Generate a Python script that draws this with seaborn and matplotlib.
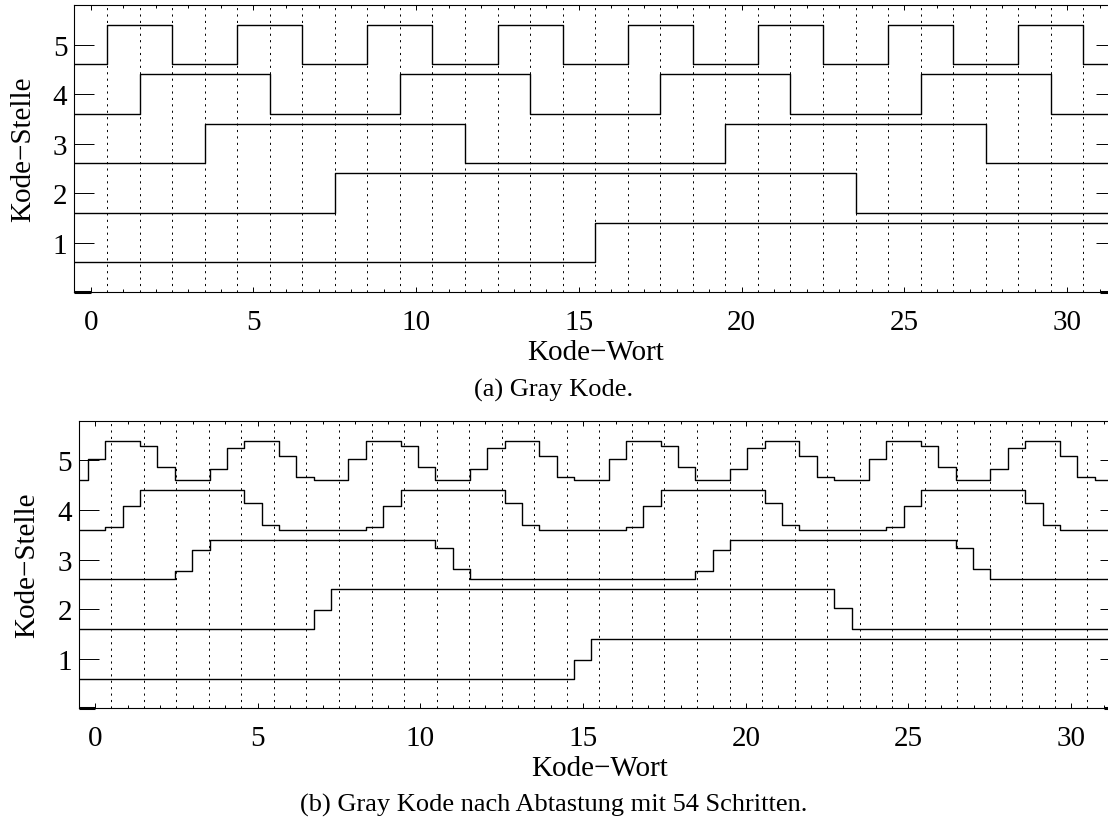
import numpy as np
import pandas as pd
import matplotlib
matplotlib.use("Agg")
import matplotlib.pyplot as plt
from matplotlib.ticker import MultipleLocator, FixedLocator
import seaborn as sns

# ---------------- data ----------------
kode_wort = [0, 1, 2, 3, 4, 5, 6, 7, 8, 9, 10, 11, 12, 13, 14, 15,
             16, 17, 18, 19, 20, 21, 22, 23, 24, 25, 26, 27, 28, 29, 30, 31]

# (a) Gray code bits per code position (Kode-Stelle 1..5)
gray_stelle1 = [0, 0, 0, 0, 0, 0, 0, 0, 0, 0, 0, 0, 0, 0, 0, 0,
                1, 1, 1, 1, 1, 1, 1, 1, 1, 1, 1, 1, 1, 1, 1, 1]
gray_stelle2 = [0, 0, 0, 0, 0, 0, 0, 0, 1, 1, 1, 1, 1, 1, 1, 1,
                1, 1, 1, 1, 1, 1, 1, 1, 0, 0, 0, 0, 0, 0, 0, 0]
gray_stelle3 = [0, 0, 0, 0, 1, 1, 1, 1, 1, 1, 1, 1, 0, 0, 0, 0,
                0, 0, 0, 0, 1, 1, 1, 1, 1, 1, 1, 1, 0, 0, 0, 0]
gray_stelle4 = [0, 0, 1, 1, 1, 1, 0, 0, 0, 0, 1, 1, 1, 1, 0, 0,
                0, 0, 1, 1, 1, 1, 0, 0, 0, 0, 1, 1, 1, 1, 0, 0]
gray_stelle5 = [0, 1, 1, 0, 0, 1, 1, 0, 0, 1, 1, 0, 0, 1, 1, 0,
                0, 1, 1, 0, 0, 1, 1, 0, 0, 1, 1, 0, 0, 1, 1, 0]

# (b) sampled Gray code: left edges of each sampling step (+ final right edge)
abtast_x = [-0.75, -0.21, 0.32, 0.85, 1.39, 1.92, 2.45, 2.99, 3.52, 4.05,
            4.59, 5.12, 5.65, 6.19, 6.72, 7.25, 7.79, 8.32, 8.85, 9.39,
            9.92, 10.45, 10.99, 11.52, 12.05, 12.59, 13.12, 13.65, 14.19, 14.72,
            15.25, 15.79, 16.32, 16.85, 17.39, 17.92, 18.45, 18.99, 19.52, 20.05,
            20.59, 21.12, 21.65, 22.19, 22.72, 23.25, 23.79, 24.32, 24.85, 25.39,
            25.92, 26.45, 26.99, 27.52, 28.05, 28.59, 29.12, 29.65, 30.19, 30.72,
            31.25]

abtast_stelle1 = [0, 0, 0, 0, 0, 0, 0, 0, 0, 0, 0, 0, 0, 0, 0, 0, 0, 0, 0, 0,
                  0, 0, 0, 0, 0, 0, 0, 0, 0, 0.47, 1, 1, 1, 1, 1, 1, 1, 1, 1, 1,
                  1, 1, 1, 1, 1, 1, 1, 1, 1, 1, 1, 1, 1, 1, 1, 1, 1, 1, 1, 1]
abtast_stelle2 = [0, 0, 0, 0, 0, 0, 0, 0, 0, 0, 0, 0, 0, 0, 0.47, 1, 1, 1, 1, 1,
                  1, 1, 1, 1, 1, 1, 1, 1, 1, 1, 1, 1, 1, 1, 1, 1, 1, 1, 1, 1,
                  1, 1, 1, 1, 0.53, 0, 0, 0, 0, 0, 0, 0, 0, 0, 0, 0, 0, 0, 0, 0]
abtast_stelle3 = [0, 0, 0, 0, 0, 0, 0.2, 0.73, 1, 1, 1, 1, 1, 1, 1, 1, 1, 1, 1, 1,
                  1, 0.8, 0.27, 0, 0, 0, 0, 0, 0, 0, 0, 0, 0, 0, 0, 0, 0.2, 0.73, 1, 1,
                  1, 1, 1, 1, 1, 1, 1, 1, 1, 1, 1, 0.8, 0.27, 0, 0, 0, 0, 0, 0, 0]
abtast_stelle4 = [0, 0, 0.07, 0.6, 1, 1, 1, 1, 1, 1, 0.67, 0.13, 0, 0, 0,
                  0, 0, 0.07, 0.6, 1, 1, 1, 1, 1, 1, 0.67, 0.13, 0, 0, 0,
                  0, 0, 0.07, 0.6, 1, 1, 1, 1, 1, 1, 0.67, 0.13, 0, 0, 0,
                  0, 0, 0.07, 0.6, 1, 1, 1, 1, 1, 1, 0.67, 0.13, 0, 0, 0]
abtast_stelle5 = [0, 0.53, 1, 1, 0.87, 0.33, 0, 0, 0.27, 0.8, 1, 1, 0.6, 0.07, 0,
                  0, 0.53, 1, 1, 0.87, 0.33, 0, 0, 0.27, 0.8, 1, 1, 0.6, 0.07, 0,
                  0, 0.53, 1, 1, 0.87, 0.33, 0, 0, 0.27, 0.8, 1, 1, 0.6, 0.07, 0,
                  0, 0.53, 1, 1, 0.87, 0.33, 0, 0, 0.27, 0.8, 1, 1, 0.6, 0.07, 0]

stellen = [1, 2, 3, 4, 5]
gray_bits = [gray_stelle1, gray_stelle2, gray_stelle3, gray_stelle4, gray_stelle5]
abtast_bits = [abtast_stelle1, abtast_stelle2, abtast_stelle3, abtast_stelle4, abtast_stelle5]

x_ticks = [0, 5, 10, 15, 20, 25, 30]
y_ticks = [1, 2, 3, 4, 5]
x_label = "Kode\u2212Wort"
y_label = "Kode\u2212Stelle"
caption_a = "(a) Gray Kode."
caption_b = "(b) Gray Kode nach Abtastung mit 54 Schritten."

# ---------------- tables ----------------
AMP = 0.8  # vertical swing of each trace around its Stelle

rows = []
for s, bits in zip(stellen, gray_bits):
    xs = [k - 0.5 for k in kode_wort] + [kode_wort[-1] + 0.5]
    vals = list(bits) + [bits[-1]]
    for x, v in zip(xs, vals):
        rows.append({"x": x, "y": s + AMP * (v - 0.5), "Stelle": s})
df_a = pd.DataFrame(rows)

rows = []
for s, vals in zip(stellen, abtast_bits):
    vv = list(vals) + [vals[-1]]
    for x, v in zip(abtast_x, vv):
        rows.append({"x": x, "y": s + AMP * (v - 0.5), "Stelle": s})
df_b = pd.DataFrame(rows)

# ---------------- style ----------------
sns.set_theme(style="ticks")
plt.rcParams["font.family"] = ["Liberation Serif", "DejaVu Serif"]
plt.rcParams.update({
    "text.color": "black", "axes.labelcolor": "black",
    "xtick.color": "black", "ytick.color": "black",
    "axes.edgecolor": "black", "axes.linewidth": 0.8,
})

W, H = 1108, 820
fig = plt.figure(figsize=(W / 100, H / 100), dpi=100)
ax1 = fig.add_axes([74.4 / W, (H - 293) / H, 1041.6 / W, 287 / H])
ax2 = fig.add_axes([78.7 / W, (H - 709.3) / H, 1041.3 / W, 287.6 / H])

FS = 21
for ax, df, cap, cap_y in ((ax1, df_a, caption_a, (H - 397) / H),
                           (ax2, df_b, caption_b, (H - 812) / H)):
    ax.vlines(np.arange(0.5, 31, 1.0), 0, 5.8, colors="black",
              linestyles=(0, (2.2, 4.4)), linewidth=0.7, zorder=1)
    sns.lineplot(data=df, x="x", y="y", hue="Stelle", units="Stelle",
                 estimator=None, sort=False, palette=["black"] * 5,
                 legend=False, drawstyle="steps-post", linewidth=1.0, ax=ax,
                 zorder=3)
    ax.set_xlim(-0.5, 31.5)
    ax.set_ylim(0, 5.8)
    ax.xaxis.set_major_locator(FixedLocator(x_ticks))
    ax.xaxis.set_minor_locator(MultipleLocator(1))
    ax.yaxis.set_major_locator(FixedLocator(y_ticks))
    ax.tick_params(which="both", direction="in", top=True, right=True,
                   labelsize=FS, width=0.7)
    ax.tick_params(axis="x", which="major", length=3.8, pad=12)
    ax.tick_params(axis="x", which="minor", length=2.0)
    ax.tick_params(axis="y", which="major", length=14.4, pad=5)
    ax.tick_params(axis="y", which="minor", left=False, right=False)
    for sp in ax.spines.values():
        sp.set_visible(True)
        sp.set_color("black")
        sp.set_linewidth(0.8)
    # slightly heavier axis pieces at the lower corners
    ax.plot([-0.5, 0], [0, 0], color="black", linewidth=2.2,
            solid_capstyle="butt", clip_on=False, zorder=4)
    ax.plot([31, 31.5], [0, 0], color="black", linewidth=2.2,
            solid_capstyle="butt", clip_on=False, zorder=4)
    ax.set_xlabel(x_label, fontsize=FS, labelpad=3)
    ax.set_ylabel(y_label, fontsize=FS, labelpad=12)
    fig.text(0.5, cap_y, cap, ha="center", va="baseline", fontsize=19)

fig.savefig("out.png", dpi=100)
